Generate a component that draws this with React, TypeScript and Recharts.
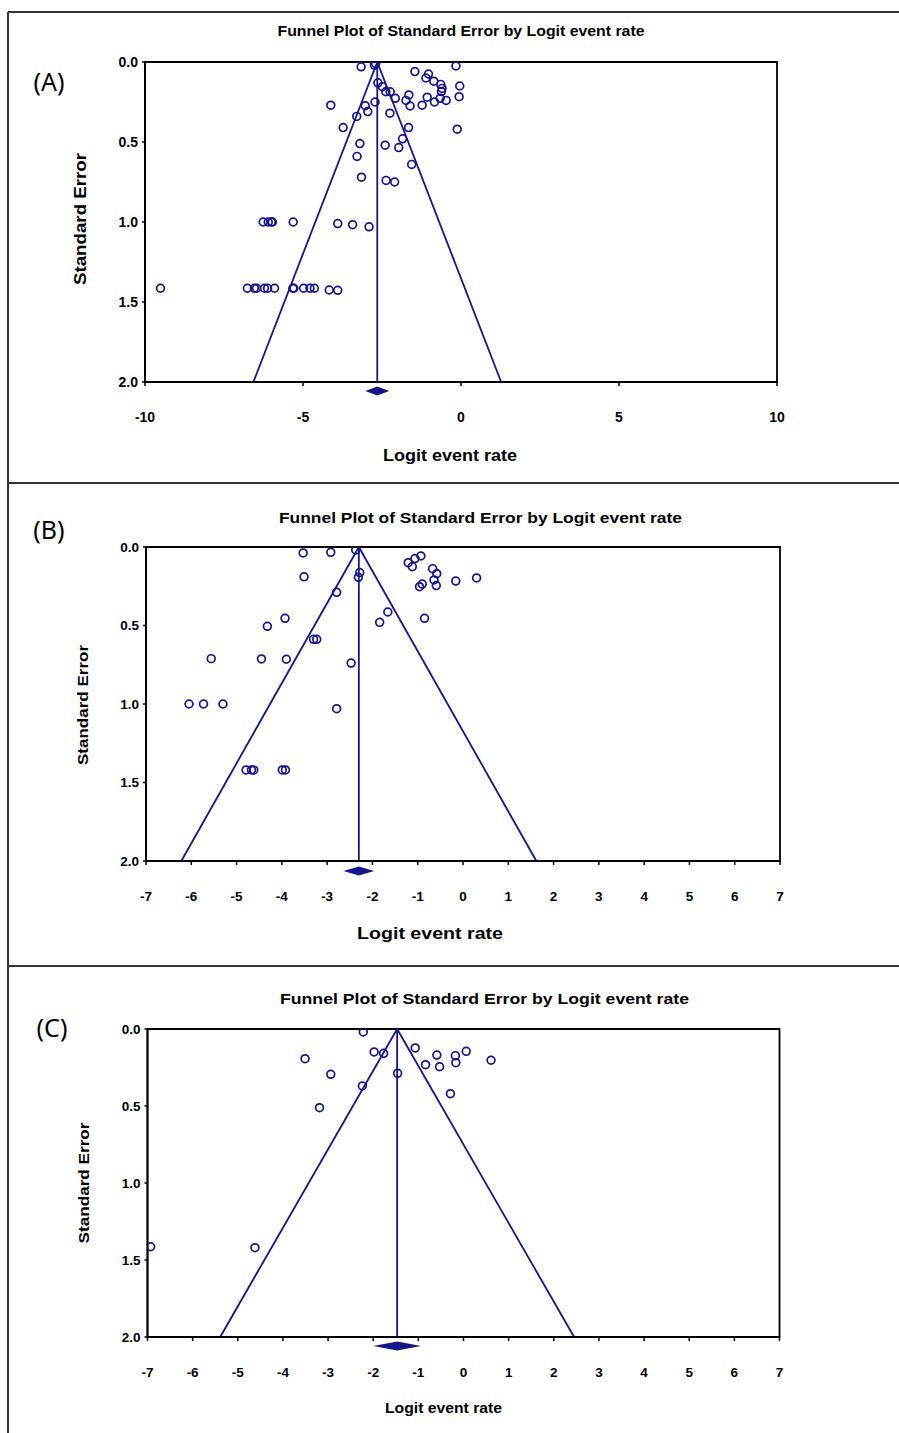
import React from "react";
import { ScatterChart, Scatter, XAxis, YAxis, ReferenceLine, ReferenceArea } from "recharts";

const NAVY = "#15158c";
const FONT = "'Liberation Sans', Arial, sans-serif";

// panel A: logit event rate / standard error per study
const aX = [
  -3.16, -2.74, -2.7, -1.46, -1.03, -1.11, -0.86, -0.16, -0.04, -0.64, -0.6, -0.62,
  -2.63, -2.49, -2.38, -2.24, -2.08, -1.65, -1.74, -1.61, -1.07, -1.23, -0.84, -0.66,
  -0.47, -0.06, -4.12, -3.03, -2.95, -2.72, -2.25, -3.3, -3.73, -1.66, -0.12, -1.85,
  -3.2, -2.4, -1.97, -3.29, -1.56, -3.15, -2.37, -2.1,
  -6.26, -6.1, -6.0, -5.97, -5.31, -3.9, -3.43, -2.91,
  -9.51, -6.76, -6.54, -6.47, -6.22, -6.12, -5.9, -5.32, -5.29, -4.98, -4.78, -4.64, -4.17, -3.9,
];
const aSE = [
  0.03, 0.02, 0.01, 0.06, 0.075, 0.1, 0.12, 0.025, 0.15, 0.14, 0.165, 0.185,
  0.13, 0.154, 0.186, 0.186, 0.227, 0.206, 0.24, 0.275, 0.22, 0.27, 0.25, 0.227,
  0.24, 0.217, 0.27, 0.273, 0.31, 0.25, 0.32, 0.34, 0.41, 0.41, 0.42, 0.48,
  0.51, 0.52, 0.535, 0.59, 0.64, 0.72, 0.74, 0.75,
  1.0, 1.0, 1.0, 1.0, 1.0, 1.01, 1.017, 1.03,
  1.414, 1.414, 1.414, 1.414, 1.414, 1.414, 1.414, 1.414, 1.414, 1.414, 1.414, 1.414, 1.425, 1.427,
];

// panel B
const bX = [
  -3.53, -2.92, -2.37, -1.21, -1.06, -0.93, -1.12, -0.67, -0.58, -0.64, -0.96, -0.9,
  -0.59, -0.16, 0.3, -3.51, -2.28, -2.31, -2.79, -1.66, -1.84, -0.85, -3.93, -4.32,
  -3.3, -3.23, -5.56, -4.45, -3.9, -2.47, -6.05, -5.73, -5.3, -2.79,
  -4.79, -4.67, -4.62, -3.99, -3.92,
];
const bSE = [
  0.038, 0.034, 0.019, 0.1, 0.074, 0.057, 0.125, 0.138, 0.17, 0.21, 0.253, 0.236,
  0.246, 0.217, 0.197, 0.19, 0.163, 0.193, 0.289, 0.414, 0.48, 0.454, 0.454, 0.505,
  0.588, 0.588, 0.711, 0.713, 0.715, 0.739, 1.0, 1.0, 1.0, 1.03,
  1.42, 1.42, 1.42, 1.42, 1.42,
];

// panel C
const cX = [
  -2.22, -3.51, -1.98, -1.77, -1.07, -0.59, -0.18, 0.06, 0.61, -0.84, -0.53, -0.17,
  -2.94, -1.46, -2.24, -0.29, -3.19, -6.93, -4.62,
];
const cSE = [
  0.019, 0.193, 0.149, 0.158, 0.123, 0.169, 0.173, 0.145, 0.203, 0.232, 0.245, 0.219,
  0.294, 0.288, 0.37, 0.42, 0.511, 1.414, 1.42,
];

// pooled estimate and its CI half-width
const means = [-2.65, -2.3, -1.47];
const ciHalf = [0.38, 0.34, 0.53];

const ticksA = [-10, -5, 0, 5, 10];
const ticks7 = [-7, -6, -5, -4, -3, -2, -1, 0, 1, 2, 3, 4, 5, 6, 7];
const seTicks = [0, 0.5, 1, 1.5, 2];

const circle = (p: any) => (
  <circle cx={p.cx} cy={p.cy} r={3.9} fill="none" stroke={NAVY} strokeWidth={1.7} />
);

const diamond = (off: number) => (p: any) => {
  const { x1, x2, y1 } = p;
  const cx = (x1 + x2) / 2;
  const cy = y1 + off;
  return (
    <polygon
      points={`${x1},${cy} ${cx},${cy - 4.5} ${x2},${cy} ${cx},${cy + 4.5}`}
      fill={NAVY}
    />
  );
};

function Funnel({ xs, ses, mean, half, xMin, xMax, xTicks, top, height, box, tickFont, off }: any) {
  const data = xs.map((x: number, i: number) => ({ x, se: ses[i] }));
  const yW = 60;
  const xH = 50;
  const tickStyle = { fontSize: tickFont, fontWeight: "bold", fill: "#000", fontFamily: FONT };
  return (
    <div style={{ position: "absolute", left: 0, top }}>
      <ScatterChart
        width={899}
        height={height}
        margin={{ top: box.top, right: 899 - box.right, bottom: height - box.bottom - xH, left: box.left - yW }}
      >
        <XAxis
          type="number"
          dataKey="x"
          domain={[xMin, xMax]}
          ticks={xTicks}
          allowDataOverflow
          height={xH}
          tickSize={4}
          tickMargin={26}
          tick={tickStyle}
          axisLine={{ stroke: "#000", strokeWidth: 1.8 }}
          tickLine={{ stroke: "#000", strokeWidth: 1.5 }}
        />
        <YAxis
          type="number"
          dataKey="se"
          domain={[0, 2]}
          reversed
          ticks={seTicks}
          allowDataOverflow
          width={yW}
          tickSize={3}
          tickMargin={4}
          tickFormatter={(v: number) => v.toFixed(1)}
          tick={tickStyle}
          axisLine={{ stroke: "#000", strokeWidth: 1.8 }}
          tickLine={{ stroke: "#000", strokeWidth: 1.5 }}
        />
        <ReferenceArea x1={xMin} x2={xMax} y1={0} y2={2} fill="none" stroke="#000" strokeWidth={1.8} />
        <ReferenceLine segment={[{ x: mean - 3.92, y: 2 }, { x: mean, y: 0 }]} stroke={NAVY} strokeWidth={1.8} />
        <ReferenceLine segment={[{ x: mean + 3.92, y: 2 }, { x: mean, y: 0 }]} stroke={NAVY} strokeWidth={1.8} />
        <ReferenceLine segment={[{ x: mean, y: 2 }, { x: mean, y: 0 }]} stroke={NAVY} strokeWidth={1.8} />
        <ReferenceLine
          segment={[{ x: mean - half, y: 2 }, { x: mean + half, y: 2 }]}
          shape={diamond(off)}
          ifOverflow="visible"
        />
        <Scatter data={data} shape={circle} isAnimationActive={false} />
      </ScatterChart>
    </div>
  );
}

const title = "Funnel Plot of Standard Error by Logit event rate";

function T({ x, y, len, size, children, rot, weight = "bold", family = FONT }: any) {
  return (
    <text
      x={x}
      y={y}
      textAnchor="middle"
      dominantBaseline="central"
      fontSize={size}
      fontWeight={weight}
      fontFamily={family}
      fill="#000"
      textLength={len}
      lengthAdjust="spacingAndGlyphs"
      transform={rot ? `rotate(-90 ${x} ${y})` : undefined}
    >
      {children}
    </text>
  );
}

export default function App() {
  return (
    <div style={{ position: "absolute", left: 0, top: 0, width: 899, height: 1433, background: "#fff" }}>
      <Funnel xs={aX} ses={aSE} mean={means[0]} half={ciHalf[0]} xMin={-10} xMax={10} xTicks={ticksA}
        top={0} height={483} box={{ left: 145, right: 777, top: 62, bottom: 382 }} tickFont={14} off={9} />
      <Funnel xs={bX} ses={bSE} mean={means[1]} half={ciHalf[1]} xMin={-7} xMax={7} xTicks={ticks7}
        top={483} height={483} box={{ left: 146, right: 780, top: 64, bottom: 378 }} tickFont={13.5} off={10} />
      <Funnel xs={cX} ses={cSE} mean={means[2]} half={ciHalf[2]} xMin={-7} xMax={7} xTicks={ticks7}
        top={966} height={467} box={{ left: 147.5, right: 779.5, top: 63, bottom: 371 }} tickFont={13.5} off={9} />
      <svg width={899} height={1433} style={{ position: "absolute", left: 0, top: 0, pointerEvents: "none" }}>
        <g stroke="#333" strokeWidth={2}>
          <line x1={8} y1={12} x2={899} y2={12} />
          <line x1={8} y1={12} x2={8} y2={1433} />
          <line x1={8} y1={483} x2={899} y2={483} />
          <line x1={8} y1={966} x2={899} y2={966} />
        </g>
        <T x={461} y={31} len={367} size={14}>{title}</T>
        <T x={480.5} y={517} len={403} size={15}>{title}</T>
        <T x={484.5} y={998} len={409} size={15}>{title}</T>
        <T x={450} y={455} len={134} size={17}>Logit event rate</T>
        <T x={430} y={933} len={146} size={17}>Logit event rate</T>
        <T x={443.5} y={1407} len={117} size={15}>Logit event rate</T>
        <T x={80} y={219} len={132} size={16} rot>Standard Error</T>
        <T x={82} y={705} len={120} size={15} rot>Standard Error</T>
        <T x={83} y={1183} len={121} size={15} rot>Standard Error</T>
        <T x={49} y={81} size={25} weight="normal" family="'Noto Sans', 'Open Sans', sans-serif">(A)</T>
        <T x={49} y={529} size={25} weight="normal" family="'Noto Sans', 'Open Sans', sans-serif">(B)</T>
        <T x={52} y={1027} size={25} weight="normal" family="'Noto Sans', 'Open Sans', sans-serif">(C)</T>
      </svg>
    </div>
  );
}
